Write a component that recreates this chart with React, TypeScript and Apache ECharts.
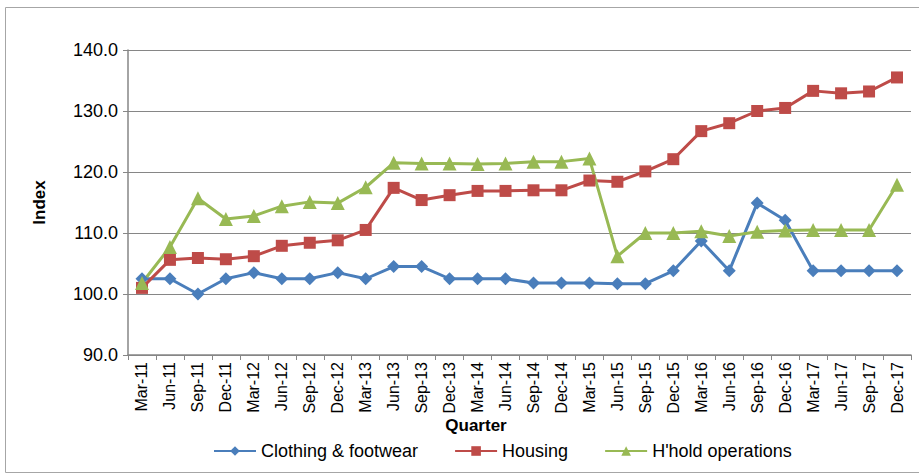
import React, { useEffect, useRef } from "react";
import * as echarts from "echarts";

const categories = [
  "Mar-11","Jun-11","Sep-11","Dec-11","Mar-12","Jun-12","Sep-12","Dec-12",
  "Mar-13","Jun-13","Sep-13","Dec-13","Mar-14","Jun-14","Sep-14","Dec-14",
  "Mar-15","Jun-15","Sep-15","Dec-15","Mar-16","Jun-16","Sep-16","Dec-16",
  "Mar-17","Jun-17","Sep-17","Dec-17",
];

const clothing = [
  102.5,102.5,100.0,102.5,103.5,102.5,102.5,103.5,
  102.5,104.5,104.5,102.5,102.5,102.5,101.8,101.8,
  101.8,101.7,101.7,103.8,108.7,103.8,114.9,112.1,
  103.8,103.8,103.8,103.8,
];

const housing = [
  101.0,105.6,105.9,105.7,106.2,107.9,108.4,108.8,
  110.5,117.4,115.4,116.2,116.9,116.9,117.0,117.0,
  118.6,118.4,120.1,122.1,126.7,128.0,130.0,130.5,
  133.3,132.9,133.2,135.5,
];

const hhold = [
  101.8,107.7,115.7,112.3,112.8,114.4,115.1,114.9,
  117.5,121.5,121.4,121.4,121.3,121.4,121.7,121.7,
  122.2,106.2,110.0,110.0,110.3,109.5,110.2,110.4,
  110.5,110.5,110.5,117.9,
];

const FONT = "'Liberation Sans', Arial, sans-serif";

export default function App() {
  const ref = useRef<HTMLDivElement>(null);
  useEffect(() => {
    if (!ref.current) return;
    const chart = echarts.init(ref.current, null, { renderer: "svg" });
    chart.setOption({
      animation: false,
      backgroundColor: "#ffffff",
      textStyle: { fontFamily: FONT },
      graphic: [
        {
          type: "rect",
          shape: { x: 5.5, y: 7.5, width: 940, height: 465 },
          style: { fill: "none", stroke: "#a6a6a6", lineWidth: 1 },
          silent: true,
        },
        {
          type: "text",
          x: 476,
          y: 425,
          style: {
            text: "Quarter",
            fontFamily: FONT,
            fontSize: 17,
            fontWeight: "bold",
            fill: "#000",
            align: "center",
            verticalAlign: "middle",
          },
          silent: true,
        },
      ],
      grid: { left: 128, right: 8, top: 50, bottom: 120, containLabel: false },
      legend: {
        bottom: 10,
        left: 208,
        itemWidth: 42,
        itemHeight: 12,
        itemGap: 36,
        textStyle: { fontFamily: FONT, fontSize: 18, color: "#000" },
        data: ["Clothing & footwear", "Housing", "H'hold operations"],
      },
      xAxis: {
        type: "category",
        data: categories,
        boundaryGap: true,
        axisLine: { lineStyle: { color: "#868686", width: 1.5 } },
        axisTick: { show: true, length: 5, alignWithLabel: false, lineStyle: { color: "#868686" } },
        axisLabel: {
          rotate: 90,
          interval: 0,
          margin: 7,
          fontSize: 16,
          color: "#000",
          fontFamily: FONT,
        },
        splitLine: { show: false },
      },
      yAxis: {
        type: "value",
        min: 90,
        max: 140,
        interval: 10,
        name: "Index",
        nameLocation: "middle",
        nameGap: 80,
        nameRotate: 90,
        nameTextStyle: { fontFamily: FONT, fontSize: 17, fontWeight: "bold", color: "#000" },
        axisLine: { show: true, lineStyle: { color: "#868686", width: 1.5 } },
        axisTick: { show: true, length: 5, lineStyle: { color: "#868686" } },
        axisLabel: {
          formatter: (v: number) => v.toFixed(1),
          fontSize: 18,
          margin: 10,
          color: "#000",
          fontFamily: FONT,
        },
        splitLine: { show: true, lineStyle: { color: "#868686", width: 1 } },
      },
      series: [
        {
          name: "Clothing & footwear",
          type: "line",
          data: clothing,
          symbol: "diamond",
          symbolSize: 13,
          itemStyle: { color: "#4A7EBB" },
          lineStyle: { color: "#4A7EBB", width: 3 },
        },
        {
          name: "Housing",
          type: "line",
          data: housing,
          symbol: "rect",
          symbolSize: 12,
          itemStyle: { color: "#BE4B48" },
          lineStyle: { color: "#BE4B48", width: 3 },
        },
        {
          name: "H'hold operations",
          type: "line",
          data: hhold,
          symbol: "triangle",
          symbolSize: 14,
          itemStyle: { color: "#98B954" },
          lineStyle: { color: "#98B954", width: 3 },
        },
      ],
    });
    return () => chart.dispose();
  }, []);
  return <div ref={ref} style={{ width: 919, height: 475, position: "absolute", left: 0, top: 0 }} />;
}
